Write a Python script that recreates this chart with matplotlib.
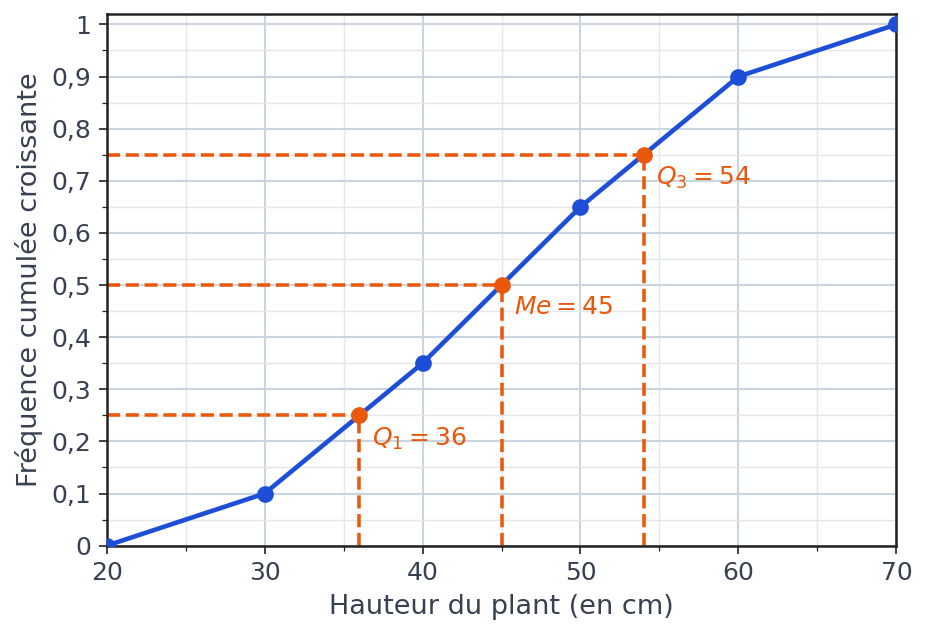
import matplotlib.pyplot as plt
from matplotlib.ticker import MultipleLocator, FuncFormatter

hauteur = [20, 30, 40, 50, 60, 70]
freq_cumulee = [0, 0.1, 0.35, 0.65, 0.9, 1]

quartile_noms = [r"$Q_1 = 36$", r"$Me = 45$", r"$Q_3 = 54$"]
quartile_x = [36, 45, 54]
quartile_y = [0.25, 0.5, 0.75]

bleu = "#1d4ed8"
orange = "#ea580c"
texte = "#374151"


def virgule(v, pos):
    s = f"{v:.1f}".replace(".", ",")
    if s.endswith(",0"):
        s = s[:-2]
    return s


fig, ax = plt.subplots(figsize=(6.18, 4.24), dpi=150)

ax.plot(hauteur, freq_cumulee, color=bleu, lw=2.2, marker="o", ms=7, zorder=3)

for nom, qx, qy in zip(quartile_noms, quartile_x, quartile_y):
    ax.plot([20, qx], [qy, qy], color=orange, lw=1.7, ls="--", zorder=2)
    ax.plot([qx, qx], [0, qy], color=orange, lw=1.7, ls="--", zorder=2)
    ax.plot(qx, qy, "o", color=orange, ms=7, zorder=4)
    ax.annotate(nom, (qx, qy), xytext=(6, -5), textcoords="offset points",
                color=orange, fontsize=12, va="top", ha="left")

ax.set_xlim(20, 70)
ax.set_ylim(0, 1.02)
ax.xaxis.set_major_locator(MultipleLocator(10))
ax.xaxis.set_minor_locator(MultipleLocator(5))
ax.yaxis.set_major_locator(MultipleLocator(0.1))
ax.yaxis.set_minor_locator(MultipleLocator(0.05))
ax.yaxis.set_major_formatter(FuncFormatter(virgule))

ax.grid(which="major", color="#cbd5e1", lw=1)
ax.grid(which="minor", color="#e5e7eb", lw=0.7)
ax.set_axisbelow(True)

for s in ax.spines.values():
    s.set_color("#222222")
    s.set_linewidth(1.2)

ax.tick_params(which="major", labelsize=12, colors="#222222", labelcolor=texte, length=4)
ax.tick_params(which="minor", colors="#222222", length=2.5)

ax.set_xlabel("Hauteur du plant (en cm)", fontsize=13, color=texte)
ax.set_ylabel("Fréquence cumulée croissante", fontsize=13, color=texte)

fig.subplots_adjust(left=0.115, right=0.967, top=0.978, bottom=0.142)
fig.savefig("out.png")
